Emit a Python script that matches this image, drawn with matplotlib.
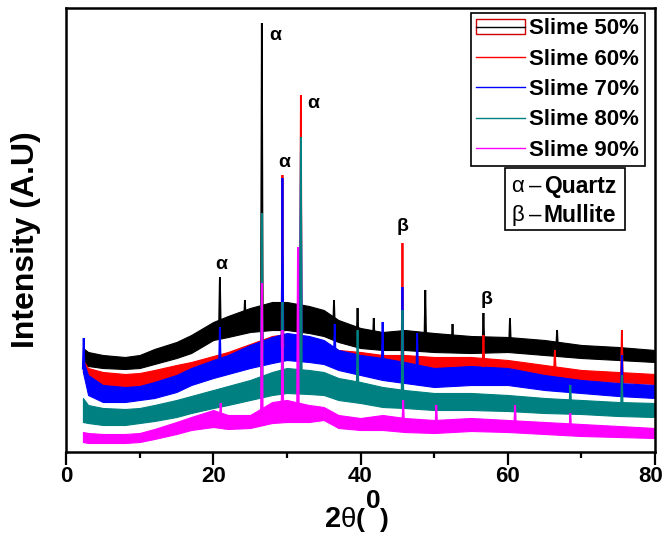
import numpy as np
import matplotlib
matplotlib.use("Agg")
import matplotlib.pyplot as plt
import matplotlib.transforms as mtransforms
from matplotlib.patches import Rectangle
from matplotlib.lines import Line2D
from matplotlib.legend_handler import HandlerTuple

# ---- diffraction data (2θ in degrees, intensity in arbitrary units) ----
two_theta = [2.3, 3, 5, 8, 10, 12, 15, 17, 20, 22, 25, 28, 30, 33, 35, 37,
             40, 43, 46, 50, 55, 60, 65, 70, 75, 80]

# upper / lower edges of the noisy background band of each pattern
slime50_hi = [104, 100, 97, 95, 97, 103, 110, 117, 130, 136, 144, 150, 150, 146, 142, 132,
              124, 120, 122, 119, 116, 115, 112, 107, 105, 102]
slime50_lo = [88, 86, 84, 83, 84, 88, 94, 99, 112, 115, 120, 122, 122, 119, 116, 110,
              104, 102, 102, 100, 99, 100, 97, 94, 92, 90]
slime60_hi = [92, 84, 80, 78, 79, 82, 87, 90, 96, 100, 108, 116, 118, 115, 110, 102,
              100, 97, 97, 95, 95, 92, 87, 82, 80, 78]
slime60_lo = [80, 70, 64, 62, 64, 66, 72, 74, 78, 82, 88, 92, 94, 93, 90, 86,
              82, 82, 80, 79, 79, 77, 75, 72, 70, 68]
slime70_hi = [92, 77, 67, 65, 66, 70, 77, 84, 92, 97, 107, 115, 119, 116, 112, 102,
              97, 94, 90, 84, 86, 84, 77, 72, 69, 67]
slime70_lo = [80, 57, 50, 50, 52, 54, 60, 67, 74, 78, 84, 89, 92, 90, 88, 82,
              77, 72, 69, 65, 67, 67, 62, 59, 56, 54]
slime80_hi = [54, 47, 44, 43, 44, 47, 52, 56, 62, 66, 72, 80, 84, 82, 80, 74,
              70, 65, 62, 59, 59, 57, 54, 52, 50, 49]
slime80_lo = [30, 29, 27, 27, 29, 31, 35, 39, 44, 47, 52, 57, 59, 58, 57, 52,
              49, 45, 44, 42, 42, 41, 39, 38, 36, 35]
slime90_hi = [20, 19, 18, 18, 19, 23, 30, 35, 42, 37, 37, 50, 52, 47, 45, 37,
              34, 37, 34, 32, 34, 32, 30, 28, 26, 24]
slime90_lo = [10, 9, 9, 9, 10, 13, 18, 22, 25, 23, 24, 29, 30, 30, 32, 24,
              22, 22, 20, 19, 21, 20, 18, 16, 15, 14]

# reflections: position (2θ) and peak intensity
slime50_peak_pos = [20.9, 24.3, 26.6, 36.4, 39.6, 41.8, 48.8, 52.5, 56.7, 60.3, 66.7]
slime50_peak_int = [175, 152, 429, 152, 144, 134, 162, 128, 139, 134, 122]
slime60_peak_pos = [26.6, 29.4, 31.9, 45.7, 56.7, 66.4, 75.5]
slime60_peak_int = [200, 277, 357, 209, 117, 102, 122]
slime70_peak_pos = [2.4, 20.9, 26.6, 29.4, 31.9, 36.5, 43.0, 45.7, 47.7, 75.5]
slime70_peak_int = [114, 125, 170, 274, 300, 128, 130, 165, 119, 97]
slime80_peak_pos = [26.6, 29.4, 31.9, 39.6, 45.7, 68.5, 75.5]
slime80_peak_int = [239, 150, 315, 122, 142, 67, 77]
slime90_peak_pos = [21.0, 26.6, 29.4, 31.5, 45.8, 50.3, 61.0, 68.5]
slime90_peak_int = [49, 169, 122, 205, 52, 47, 47, 39]

labels = ["Slime 50%", "Slime 60%", "Slime 70%", "Slime 80%", "Slime 90%"]
colors = ["#000000", "#ff0000", "#0000ff", "#008080", "#ff00ff"]

bands = [(slime50_lo, slime50_hi), (slime60_lo, slime60_hi), (slime70_lo, slime70_hi),
         (slime80_lo, slime80_hi), (slime90_lo, slime90_hi)]
peaks = [(slime50_peak_pos, slime50_peak_int), (slime60_peak_pos, slime60_peak_int),
         (slime70_peak_pos, slime70_peak_int), (slime80_peak_pos, slime80_peak_int),
         (slime90_peak_pos, slime90_peak_int)]

# phase markers: symbol, peak position, peak intensity, label offset (points)
phase_marks = [("α", 20.9, 175, 1, 9), ("α", 26.6, 429, 10, -9), ("α", 29.4, 277, 1, 9),
               ("α", 31.9, 357, 9, -6), ("β", 45.7, 209, 0, 12), ("β", 56.7, 139, 2, 10)]

fig = plt.figure(figsize=(6.65, 5.35), dpi=100)
ax = fig.add_axes([66 / 665, 83 / 535, 589 / 665, 444 / 535])

x = np.array(two_theta, dtype=float)
for (lo, hi), (ppos, pint), c in zip(bands, peaks, colors):
    lo = np.array(lo, dtype=float)
    hi = np.array(hi, dtype=float)
    ax.fill_between(x, lo, hi, color=c, lw=0.8, edgecolor=c)
    mid = (lo + hi) / 2
    for p, h in zip(ppos, pint):
        base = np.interp(p, x, mid)
        ax.plot([p - 0.12, p, p + 0.12], [base, h, base], color=c, lw=1.3,
                solid_joinstyle="miter")

for sym, p, h, dx, dy in phase_marks:
    ax.annotate(sym, xy=(p, h), xytext=(dx, dy), textcoords="offset points",
                ha="center", va="center", fontsize=14, fontweight="bold",
                family=["Liberation Sans", "DejaVu Sans"])

ax.set_xlim(0, 80)
ax.set_ylim(0, 444)
ax.set_yticks([])
ax.set_xticks([0, 20, 40, 60, 80])
ax.set_xticks([10, 30, 50, 70], minor=True)
ax.tick_params(axis="x", which="major", direction="out", length=9, width=1.6, pad=1)
ax.tick_params(axis="x", which="minor", direction="out", length=4.5, width=1.6)
tick_labels = ax.get_xticklabels()
for lab in tick_labels:
    lab.set_family("Liberation Sans")
    lab.set_fontweight("bold")
    lab.set_fontsize(16)
# keep the last label inside the canvas
tick_labels[-1].set_transform(tick_labels[-1].get_transform() +
                              mtransforms.ScaledTranslation(-4 / 100, 0, fig.dpi_scale_trans))
for s in ax.spines.values():
    s.set_linewidth(1.8)

# legend
h_first = (Rectangle((0, 0), 1, 1, facecolor="none", edgecolor="#cc0000", lw=1.0),
           Line2D([], [], color=colors[0], lw=1.0))
handles = [h_first] + [Line2D([], [], color=c, lw=1.0) for c in colors[1:]]
leg = ax.legend(handles, labels, loc="upper right", bbox_to_anchor=(0.983, 0.989),
                borderaxespad=0, frameon=True, fancybox=False, framealpha=1,
                edgecolor="black", handlelength=2.2, handletextpad=0.2,
                labelspacing=0.42, borderpad=0.25,
                handler_map={tuple: HandlerTuple(ndivide=1)},
                prop={"family": "Liberation Sans", "weight": "bold", "size": 16})
leg.get_frame().set_linewidth(1.2)

# phase key box
ax.add_patch(Rectangle((0.745, 0.50), 0.204, 0.14, transform=ax.transAxes,
                       facecolor="white", edgecolor="black", lw=1.2, zorder=5))
for sym, name, yy in [("α", "Quartz", 0.599), ("β", "Mullite", 0.533)]:
    ax.text(0.767, yy, sym, transform=ax.transAxes, ha="center", va="center",
            fontsize=16, family=["Liberation Sans", "DejaVu Sans"], zorder=6)
    ax.text(0.796, yy, "–", transform=ax.transAxes, ha="center", va="center",
            fontsize=16, family="Liberation Sans", zorder=6)
    ax.text(0.8115, yy, name, transform=ax.transAxes, ha="left", va="center",
            fontsize=16.5, fontweight="bold", family="Liberation Sans", zorder=6)

# axis titles
fig.text(26 / 665, (535 - 240) / 535, "Intensity (A.U)", rotation=90,
         ha="center", va="center", fontsize=23, fontweight="bold",
         family="Liberation Sans")
base_y = (535 - 527) / 535
fig.text(325 / 665, base_y, "2", fontsize=21, fontweight="bold", family="Liberation Sans",
         va="baseline", ha="left")
fig.text(341 / 665, base_y, "θ", fontsize=20, family="Liberation Sans",
         va="baseline", ha="left")
fig.text(356 / 665, base_y, "(", fontsize=19, fontweight="bold", family="Liberation Sans",
         va="baseline", ha="left")
fig.text(366 / 665, (535 - 508) / 535, "0", fontsize=19, fontweight="bold",
         family="Liberation Sans", va="baseline", ha="left")
fig.text(380 / 665, base_y, ")", fontsize=19, fontweight="bold", family="Liberation Sans",
         va="baseline", ha="left")

fig.savefig("out.png", dpi=100)
